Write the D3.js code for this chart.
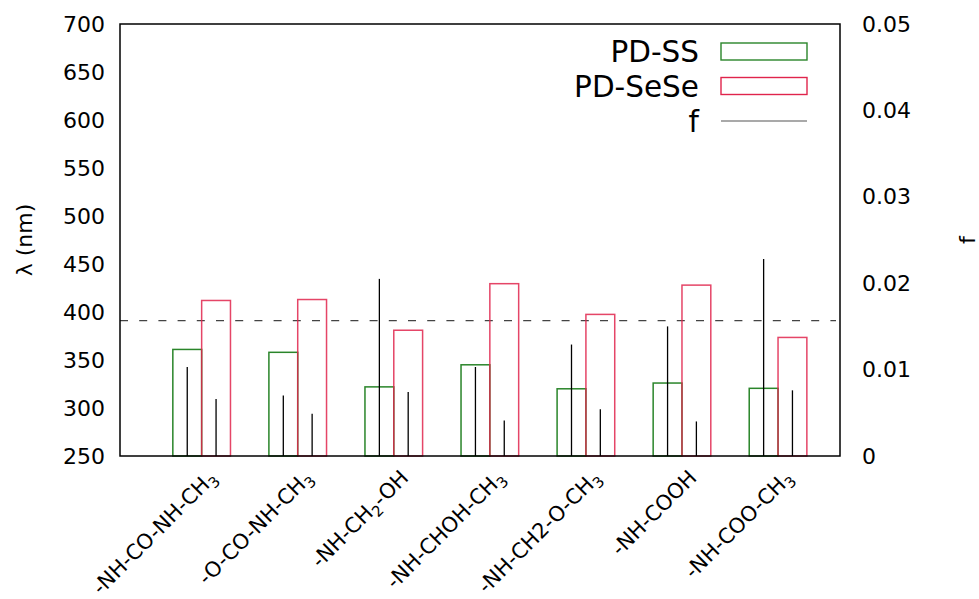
<!DOCTYPE html>
<html>
<head>
<meta charset="utf-8">
<script src="https://cdn.jsdelivr.net/npm/d3@7"></script>
<style>
  html, body { margin: 0; padding: 0; background: #fff; }
  svg { display: block; font-family: "DejaVu Sans", sans-serif; }
</style>
</head>
<body>
<svg id="chart" width="979" height="599"></svg>
<script>
// Substituent groups ("_" marks a subscript character)
const categories = ["-NH-CO-NH-CH_3", "-O-CO-NH-CH_3", "-NH-CH_2-OH", "-NH-CHOH-CH_3",
                    "-NH-CH2-O-CH_3", "-NH-COOH", "-NH-COO-CH_3"];
// Absorption wavelength (nm)
const lambdaSS   = [361, 358, 322, 345, 320, 326, 320.5];
const lambdaSeSe = [412, 413, 381, 429.5, 397.5, 428, 373.5];
// Oscillator strength
const fSS   = [0.0103, 0.0070, 0.0205, 0.0103, 0.0129, 0.0150, 0.0228];
const fSeSe = [0.0066, 0.0049, 0.0074, 0.0041, 0.0054, 0.0040, 0.0076];
// Reference wavelength (dashed line)
const refLambda = 391;
const leftTicks  = [250, 300, 350, 400, 450, 500, 550, 600, 650, 700];
const rightTicks = [0, 0.01, 0.02, 0.03, 0.04, 0.05];
const legendLabels = ["PD-SS", "PD-SeSe", "f"];

const colSS = "#2a852a", colSe = "#e0244c";
const svg = d3.select("#chart");
const L = 120, R = 840, T = 24, B = 456;

const x  = d3.scaleLinear().domain([-0.85, 6.645]).range([L, R]);
const y  = d3.scaleLinear().domain([250, 700]).range([B, T]);
const y2 = d3.scaleLinear().domain([0, 0.05]).range([B, T]);
const bw = 0.3, fOff = 0.15;

// axes (labels only, no tick marks)
const yAxis = svg.append("g").attr("transform", `translate(${L},0)`)
  .call(d3.axisLeft(y).tickValues(leftTicks).tickSize(0).tickPadding(15));
const y2Axis = svg.append("g").attr("transform", `translate(${R},0)`)
  .call(d3.axisRight(y2).tickValues(rightTicks).tickSize(0).tickPadding(22)
        .tickFormat(v => v === 0 ? "0" : v.toFixed(2)));
[yAxis, y2Axis].forEach(g => {
  g.select(".domain").remove();
  g.selectAll("text").attr("font-size", 22).attr("font-family", "DejaVu Sans, sans-serif").attr("fill", "#000");
});

// reference wavelength
svg.append("line")
  .attr("x1", L).attr("x2", R - 4)
  .attr("y1", y(refLambda)).attr("y2", y(refLambda))
  .attr("stroke", "#444").attr("stroke-width", 1.4)
  .attr("stroke-dasharray", "8,11.2");

const idx = d3.range(categories.length);

// bars
svg.append("g").selectAll("rect").data(idx).join("rect")
  .attr("x", i => x(i - bw)).attr("width", i => x(bw) - x(0))
  .attr("y", i => y(lambdaSS[i])).attr("height", i => B - y(lambdaSS[i]))
  .attr("fill", "none").attr("stroke", colSS).attr("stroke-width", 1.5);
svg.append("g").selectAll("rect").data(idx).join("rect")
  .attr("x", i => x(i)).attr("width", i => x(bw) - x(0))
  .attr("y", i => y(lambdaSeSe[i])).attr("height", i => B - y(lambdaSeSe[i]))
  .attr("fill", "none").attr("stroke", colSe).attr("stroke-width", 1.5)
  .attr("stroke-opacity", 0.85);

// oscillator strength impulses
svg.append("g").selectAll("line").data(idx).join("line")
  .attr("x1", i => x(i - fOff)).attr("x2", i => x(i - fOff))
  .attr("y1", B).attr("y2", i => y2(fSS[i]))
  .attr("stroke", "#000").attr("stroke-width", 1.3);
svg.append("g").selectAll("line").data(idx).join("line")
  .attr("x1", i => x(i + fOff)).attr("x2", i => x(i + fOff))
  .attr("y1", B).attr("y2", i => y2(fSeSe[i]))
  .attr("stroke", "#000").attr("stroke-width", 1.3);

// frame
svg.append("rect").attr("x", L).attr("y", T).attr("width", R - L).attr("height", B - T)
  .attr("fill", "none").attr("stroke", "#000").attr("stroke-width", 1.5);

// category labels with subscripts
function richText(sel, s) {
  const parts = s.split(/(_.)/).filter(p => p.length);
  let shifted = false;
  parts.forEach(p => {
    if (p[0] === "_") {
      sel.append("tspan").attr("font-size", 15).attr("dy", 5).text(p[1]);
      shifted = true;
    } else {
      sel.append("tspan").attr("dy", shifted ? -5 : 0).text(p);
      shifted = false;
    }
  });
}
svg.append("g").selectAll("text").data(idx).join("text")
  .attr("transform", i => `translate(${x(i) + 16},${B + 23}) rotate(-45)`)
  .attr("text-anchor", "end").attr("font-size", 21).attr("fill", "#000")
  .each(function(i) { richText(d3.select(this), categories[i]); });

// axis titles
svg.append("text").attr("transform", `translate(32,${(T + B) / 2}) rotate(-90)`)
  .attr("text-anchor", "middle").attr("font-size", 22).text("λ (nm)");
svg.append("text").attr("transform", `translate(975,${(T + B) / 2}) rotate(-90)`)
  .attr("text-anchor", "middle").attr("font-size", 22).text("f");

// legend
const lg = svg.append("g");
const ly = [51, 86, 121];
legendLabels.forEach((t, k) => {
  lg.append("text").attr("x", 699).attr("y", ly[k]).attr("dy", "0.36em")
    .attr("text-anchor", "end").attr("font-size", 29.5).text(t);
});
lg.append("rect").attr("x", 721).attr("y", 43).attr("width", 86).attr("height", 17)
  .attr("fill", "none").attr("stroke", colSS).attr("stroke-width", 1.4);
lg.append("rect").attr("x", 721).attr("y", 77.5).attr("width", 86).attr("height", 17)
  .attr("fill", "none").attr("stroke", colSe).attr("stroke-width", 1.4);
lg.append("line").attr("x1", 721).attr("x2", 807).attr("y1", 121).attr("y2", 121)
  .attr("stroke", "#555").attr("stroke-width", 1.2);
</script>
</body>
</html>
